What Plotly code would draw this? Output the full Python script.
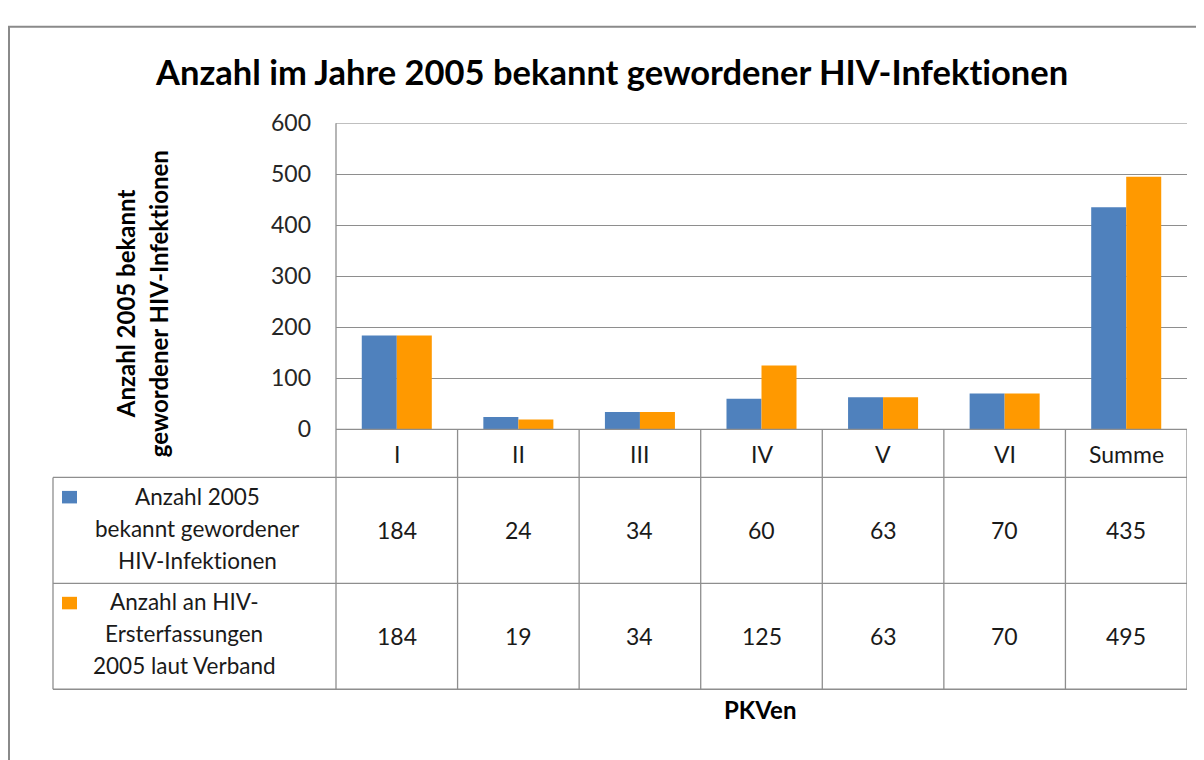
import plotly.graph_objects as go

categories = ["I", "II", "III", "IV", "V", "VI", "Summe"]
series1_name = ["Anzahl 2005", "bekannt gewordener", "HIV-Infektionen"]
series2_name = ["Anzahl an HIV-", "Ersterfassungen", "2005 laut Verband"]
series1 = [184, 24, 34, 60, 63, 70, 435]
series2 = [184, 19, 34, 125, 63, 70, 495]
y_ticks = [0, 100, 200, 300, 400, 500, 600]
title_text = "Anzahl im Jahre 2005 bekannt gewordener HIV-Infektionen"
ytitle_lines = ["Anzahl 2005 bekannt", "gewordener HIV-Infektionen"]
xtitle_text = "PKVen"

# page body has an 8px margin; the figure is shifted accordingly
OFF = 8
W, H = 1204 - OFF, 760 - OFF
BLUE = "#4F81BD"
ORANGE = "#FF9900"
GRID = "#8E8E8E"
FONT = "Lato"
NOLIG = '<span style="font-variant-ligatures:none">{}</span>'

def px(x):
    return (x - OFF) / W

def py(y):
    return 1 - (y - OFF) / H

xs = list(range(len(categories)))

fig = go.Figure()
fig.add_trace(go.Bar(x=xs, y=series1, marker=dict(color=BLUE, line=dict(width=0)),
                     name=" ".join(series1_name), showlegend=False))
fig.add_trace(go.Bar(x=xs, y=series2, marker=dict(color=ORANGE, line=dict(width=0)),
                     name=" ".join(series2_name), showlegend=False))

shapes = []
def line(x0, y0, x1, y1, xref="paper", yref="paper", color=GRID, width=1.3, layer="above"):
    shapes.append(dict(type="line", xref=xref, yref=yref, x0=x0, y0=y0, x1=x1, y1=y1,
                       line=dict(color=color, width=width), layer=layer))

# outer chart border
shapes.append(dict(type="rect", xref="paper", yref="paper", x0=px(9), y0=py(790), x1=px(1240), y1=py(12),
                   line=dict(color="#8A8A8A", width=2), layer="below"))

# top gridline at max of range
line(px(336), y_ticks[-1], px(1187), y_ticks[-1], yref="y", layer="below")
# plot area left line and table
line(px(336), py(112), px(336), py(700))
for yy in [430, 480, 590, 700]:
    x_start = 336 if yy == 430 else 53
    line(px(x_start), py(yy), px(1187), py(yy))
line(px(53), py(480), px(53), py(700))
for k in range(len(categories)):
    line(k + 0.5, py(430), k + 0.5, py(700), xref="x")

# legend keys
shapes.append(dict(type="rect", xref="paper", yref="paper", x0=px(62), x1=px(77), y0=py(507), y1=py(494),
                   fillcolor=BLUE, line=dict(width=0)))
shapes.append(dict(type="rect", xref="paper", yref="paper", x0=px(62), x1=px(77), y0=py(617), y1=py(604),
                   fillcolor=ORANGE, line=dict(width=0)))

annotations = []
TXT = "#1A1A1A"
def ann(x, y, text, size, xref="paper", **kw):
    d = dict(x=x, y=y, xref=xref, yref="paper", text=text, showarrow=False,
             xanchor="center", yanchor="middle", font=dict(family=FONT, size=size, color=kw.pop("color", TXT)))
    d.update(kw)
    annotations.append(d)

for i, c in enumerate(categories):
    ann(i, py(456), c, 23, xref="x")
    ann(i, py(535), str(series1[i]), 23, xref="x")
    ann(i, py(645), str(series2[i]), 23, xref="x")

for j, t in enumerate(series1_name):
    ann(px(197), py(500 + 33 * j), NOLIG.format(t), 22.5)
for j, t in enumerate(series2_name):
    ann(px(184), py(609 + 33 * j), NOLIG.format(t), 22.5)

# title
ann(px(611), py(58), "<b>" + NOLIG.format(title_text) + "</b>", 34.5, color="#000000")
# y axis title
for j, t in enumerate(ytitle_lines):
    ann(px(125 + 33 * j), py(300), "<b>" + NOLIG.format(t) + "</b>", 24, textangle=-90, color="#000000")
# x axis title
ann(px(760), py(721), "<b>" + xtitle_text + "</b>", 24, color="#000000")

fig.update_layout(
    width=W, height=H,
    margin=dict(l=0, r=0, t=0, b=0),
    paper_bgcolor="white", plot_bgcolor="white",
    barmode="group", bargap=0.424, bargroupgap=0,
    showlegend=False,
    xaxis=dict(domain=[px(336), px(1187)], range=[-0.5, len(categories) - 0.5],
               showticklabels=False, showgrid=False, zeroline=False, showline=False, ticks=""),
    yaxis=dict(domain=[py(430), py(112)], range=[0, 600], tickvals=y_ticks,
               showgrid=True, gridcolor=GRID, gridwidth=1.3, zeroline=False, showline=False,
               ticks="", ticklabelstandoff=24,
               tickfont=dict(family=FONT, size=23, color="#262626")),
    shapes=shapes,
    annotations=annotations,
)

fig.write_html("out.html")
